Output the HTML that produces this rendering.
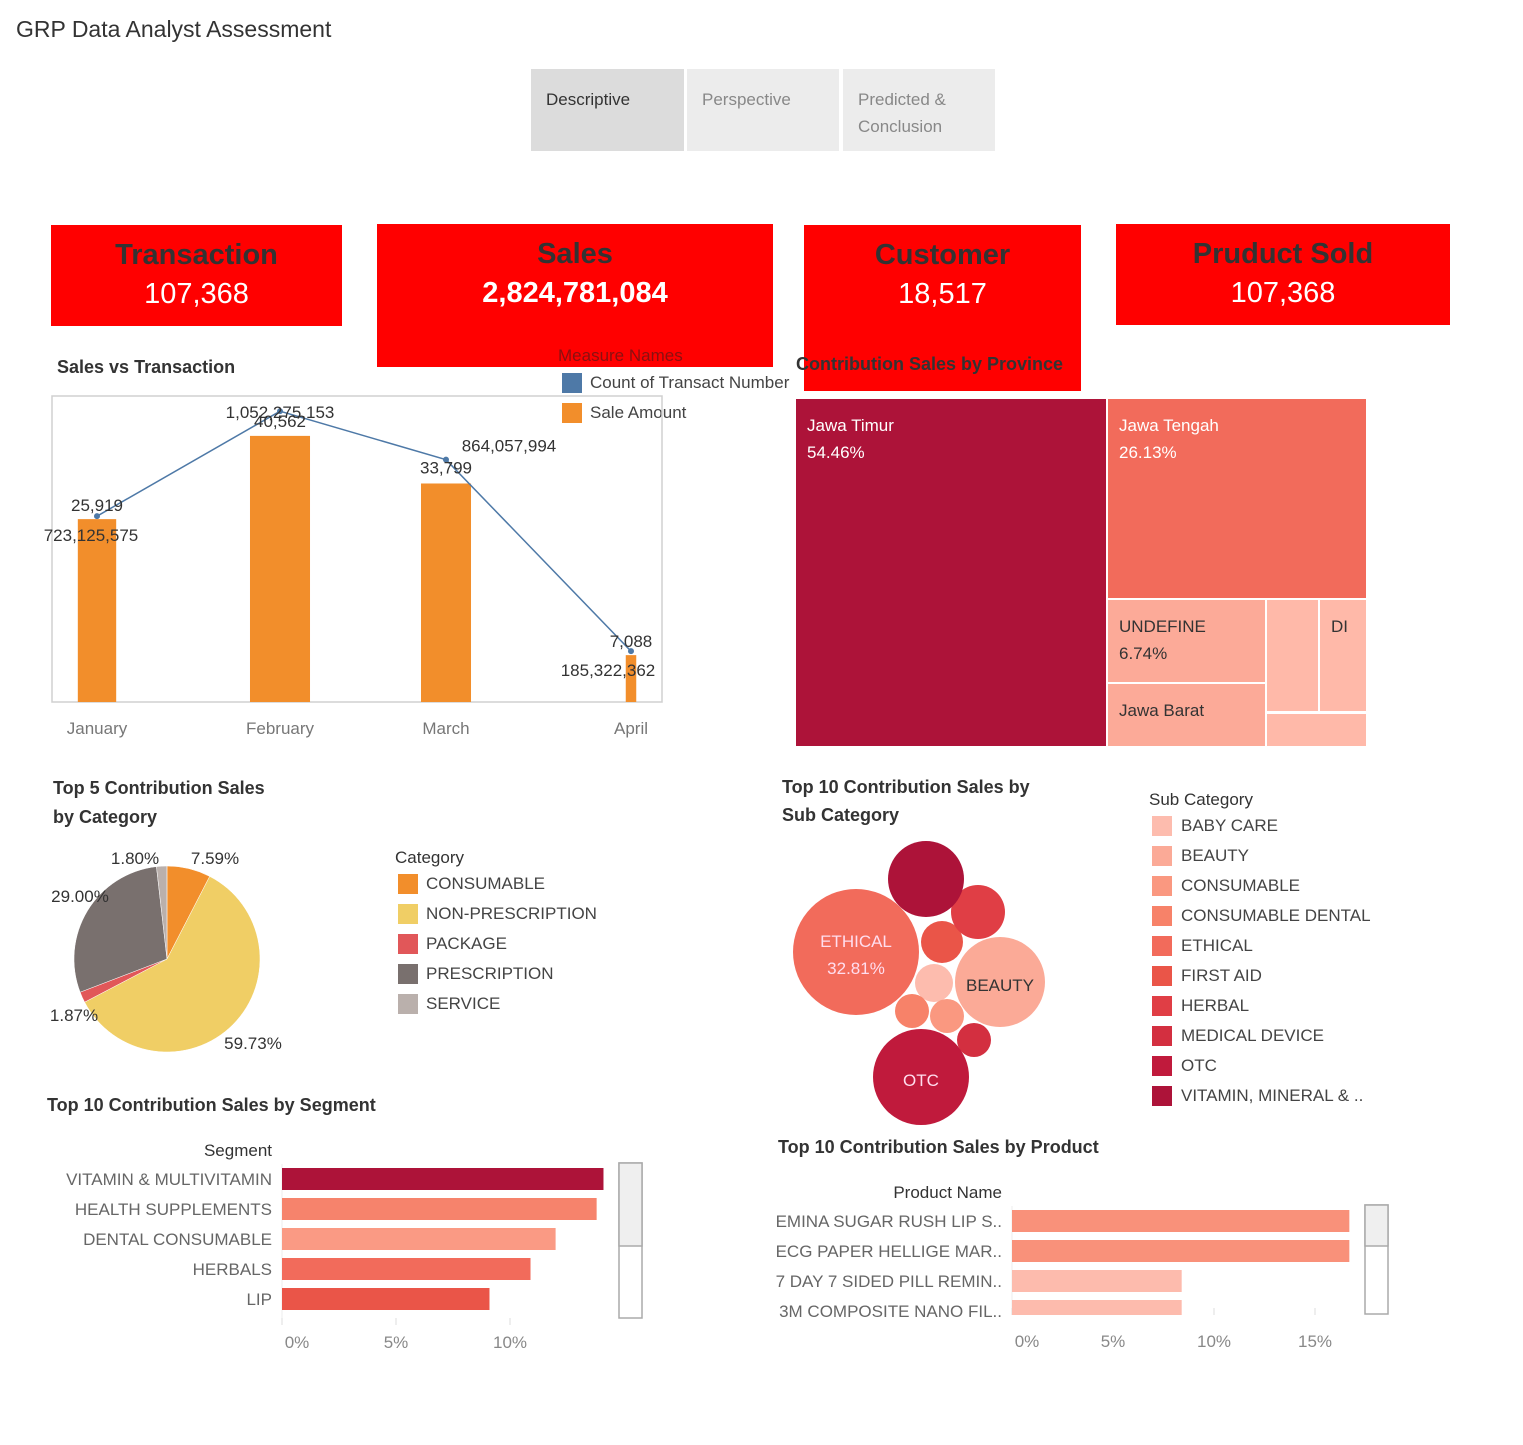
<!DOCTYPE html>
<html><head><meta charset="utf-8">
<style>
*{margin:0;padding:0;box-sizing:border-box}
body{width:1523px;height:1445px;background:#fff;font-family:"Liberation Sans",sans-serif;color:#333;position:relative;overflow:hidden}
.a{position:absolute;white-space:nowrap}
.tab{position:absolute;top:69px;height:82px;font-size:17px;padding:17px 15px;line-height:27px;color:#888}
.kpi{position:absolute;background:#ff0000;text-align:center}
.kpi .t{font-size:29px;font-weight:bold;color:#333;margin-top:14px}
.kpi .v{font-size:29px;color:#fff;margin-top:6px}
.h{font-size:18px;font-weight:bold;color:#333}
.lg{font-size:17px;color:#444}
.sw{position:absolute;width:20px;height:20px}
svg text{font-family:"Liberation Sans",sans-serif}
</style></head><body>
<div class="a" style="left:16px;top:16px;font-size:23px;color:#333">GRP Data Analyst Assessment</div>
<div class="tab" style="left:531px;width:153px;background:#dcdcdc;color:#333">Descriptive</div>
<div class="tab" style="left:687px;width:152px;background:#ececec">Perspective</div>
<div class="tab" style="left:843px;width:152px;background:#ececec">Predicted &amp;<br>Conclusion</div>

<div class="kpi" style="left:51px;top:225px;width:291px;height:101px"><div class="t">Transaction</div><div class="v">107,368</div></div>
<div class="kpi" style="left:377px;top:224px;width:396px;height:143px"><div class="t">Sales</div><div class="v" style="font-weight:bold">2,824,781,084</div></div>
<div class="kpi" style="left:804px;top:225px;width:277px;height:166px"><div class="t">Customer</div><div class="v">18,517</div></div>
<div class="kpi" style="left:1116px;top:224px;width:334px;height:101px"><div class="t">Pruduct Sold</div><div class="v">107,368</div></div>

<div class="a h" style="left:57px;top:357px">Sales vs Transaction</div>
<div class="a" style="left:558px;top:346px;font-size:17px;color:#8a1010">Measure Names</div>
<div class="sw" style="left:562px;top:373px;background:#4e79a7"></div>
<div class="a lg" style="left:590px;top:373px">Count of Transact Number</div>
<div class="sw" style="left:562px;top:403px;background:#f28e2b"></div>
<div class="a lg" style="left:590px;top:403px">Sale Amount</div>

<svg id="combo" class="a" style="left:0;top:0" width="800" height="760"></svg>

<div class="a h" style="left:796px;top:354px">Contribution Sales by Province</div>
<svg id="tree" class="a" style="left:0;top:0" width="1523" height="760"></svg>

<div class="a h" style="left:53px;top:774px;line-height:29px">Top 5 Contribution Sales<br>by Category</div>
<svg id="pie" class="a" style="left:0;top:840px" width="380" height="230"></svg>
<div class="a" style="left:395px;top:848px;font-size:17px">Category</div>
<div id="catleg"></div>

<div class="a h" style="left:782px;top:773px;line-height:28px">Top 10 Contribution Sales by<br>Sub Category</div>
<svg id="bub" class="a" style="left:760px;top:820px" width="340" height="320"></svg>
<div class="a" style="left:1149px;top:790px;font-size:17px">Sub Category</div>
<div id="subleg"></div>

<div class="a h" style="left:47px;top:1095px">Top 10 Contribution Sales by Segment</div>
<svg id="seg" class="a" style="left:0;top:1130px" width="700" height="240"></svg>
<div class="a h" style="left:778px;top:1137px">Top 10 Contribution Sales by Product</div>
<svg id="prod" class="a" style="left:700px;top:1175px" width="720" height="200"></svg>

<script>
const NS="http://www.w3.org/2000/svg";
function mk(p,t,a){const e=document.createElementNS(NS,t);for(const k in a)e.setAttribute(k,a[k]);p.appendChild(e);return e;}
function tx(p,x,y,s,a){const e=mk(p,'text',Object.assign({x:x,y:y,'font-size':17,fill:'#333'},a||{}));e.textContent=s;return e;}

// ===== Sales vs Transaction =====
const months=["January","February","March","April"];
const saleAmount=[723125575,1052275153,864057994,185322362];
const txCount=[25919,40562,33799,7088];
const saleLabels=["723,125,575","1,052,275,153","864,057,994","185,322,362"];
const countLabels=["25,919","40,562","33,799","7,088"];
const monthX=[97,280,446,631];
(function(){
 const s=document.getElementById('combo');
 const top=396,bot=702,left=52,right=662;
 const r1=mk(s,'rect',{x:left,y:top,width:right-left,height:bot-top,fill:'none',stroke:'#d0d0d0','stroke-width':1.5});
 
 const ySale=v=>bot-v/1210e6*(bot-top);
 const yCnt=v=>bot-v/42680*(bot-top);
 const w=v=>v*0.00148;
 months.forEach((m,i)=>{
  const bw=w(txCount[i]);
  const b=mk(s,'rect',{x:monthX[i]-bw/2,y:ySale(saleAmount[i]),width:bw,height:bot-ySale(saleAmount[i]),fill:'#f28e2b'});
  
  
  const t=tx(s,monthX[i],734,m,{'text-anchor':'middle',fill:'#777'});
  
 });
 const pts=months.map((m,i)=>monthX[i]+','+yCnt(txCount[i])).join(' ');
 const l=mk(s,'polyline',{points:pts,fill:'none',stroke:'#4e79a7','stroke-width':1.5});
 
 months.forEach((m,i)=>{
  const c=mk(s,'circle',{cx:monthX[i],cy:yCnt(txCount[i]),r:3,fill:'#4e79a7'});
  
 });
 const sOff=[[-6,22],[0,-18],[63,-32],[-23,21]],cOff=[[0,-5],[0,16],[0,14],[0,-4]];
 months.forEach((m,i)=>{
  const a=tx(s,monthX[i]+sOff[i][0],ySale(saleAmount[i])+sOff[i][1],saleLabels[i],{'text-anchor':'middle'});
  
  const b=tx(s,monthX[i]+cOff[i][0],yCnt(txCount[i])+cOff[i][1],countLabels[i],{'text-anchor':'middle'});
  
 });
})();

// ===== Treemap =====
(function(){
 const s=document.getElementById('tree');
 const cells=[[796,399,310,347,'#ad1339','Jawa Timur','54.46%','#fff'],[1108,399,258,199,'#f26b5b','Jawa Tengah','26.13%','#fff'],
 [1108,600,157,82,'#fcaa98','UNDEFINE','6.74%','#333'],[1108,684,157,62,'#fcaa98','Jawa Barat','','#333'],
 [1267,600,51,111,'#ffb9a9','','', '#333'],[1320,600,46,111,'#ffb9a9','DI','','#333'],[1267,714,99,32,'#ffb9a9','','','#333']];
 cells.forEach(c=>{
  const r=mk(s,'rect',{x:c[0],y:c[1],width:c[2],height:c[3],fill:c[4]});
  
  if(c[5]){tx(s,c[0]+11,c[1]+32,c[5],{fill:c[7]});}
  if(c[6]){tx(s,c[0]+11,c[1]+59,c[6],{fill:c[7]});}
 });
})();

// ===== Pie =====
const catNames=["CONSUMABLE","NON-PRESCRIPTION","PACKAGE","PRESCRIPTION","SERVICE"];
const catShares=[7.59,59.73,1.87,29.00,1.80];
const catColors=["#f28e2b","#edc948","#e15759","#79706e","#bab0ac"];
(function(){
 const s=document.getElementById('pie');const cx=167,cy=119,R=93;
 let a0=0;
 const lpos=[[215,24],[253,209],[74,181],[80,62],[135,24]];
 catShares.forEach((v,i)=>{
  const a1=a0+v/100*2*Math.PI;
  const x0=cx+R*Math.sin(a0),y0=cy-R*Math.cos(a0),x1=cx+R*Math.sin(a1),y1=cy-R*Math.cos(a1);
  const p=mk(s,'path',{d:`M${cx},${cy}L${x0},${y0}A${R},${R} 0 ${a1-a0>Math.PI?1:0} 1 ${x1},${y1}Z`,fill:catColors[i]==='#edc948'?'#f0ce65':catColors[i],stroke:'#fff','stroke-width':0.5});
  
  a0=a1;
  const t=tx(s,lpos[i][0],lpos[i][1],v.toFixed(2)+'%',{'text-anchor':'middle'});
  
 });
 const L=document.getElementById('catleg');
 catNames.forEach((n,i)=>{
  const sw=document.createElement('div');sw.className='sw';sw.style.cssText=`left:398px;top:${874+i*30}px;background:${i==1?'#f0ce65':catColors[i]}`;
  L.appendChild(sw);
  const d=document.createElement('div');d.className='a lg';d.style.cssText=`left:426px;top:${874+i*30}px`;d.textContent=n;
  L.appendChild(d);
 });
})();

// ===== Bubbles =====
const subNames=["BABY CARE","BEAUTY","CONSUMABLE","CONSUMABLE DENTAL","ETHICAL","FIRST AID","HERBAL","MEDICAL DEVICE","OTC","VITAMIN, MINERAL & .."];
const subColors=["#fdbcae","#fbaa97","#fa9880","#f78269","#f26b5b","#ea5548","#e03e45","#d32f40","#c01a3c","#ad1339"];
const subRadius=[19,45,17,17,63,21,27,17,48,38];
(function(){
 const s=document.getElementById('bub');
 const ctr=[[174,163],[240,162],[187,196],[152,191],[96,132],[182,122],[218,92],[214,220],[161,257],[166,59]];
 subNames.forEach((n,i)=>{
  const c=mk(s,'circle',{cx:ctr[i][0],cy:ctr[i][1],r:subRadius[i],fill:subColors[i]});
  
 });
 tx(s,96,127,'ETHICAL',{'text-anchor':'middle',fill:'#fde'});
 tx(s,96,154,'32.81%',{'text-anchor':'middle',fill:'#fde'});
 tx(s,240,171,'BEAUTY',{'text-anchor':'middle'});
 tx(s,161,266,'OTC',{'text-anchor':'middle',fill:'#fde'});
 const L=document.getElementById('subleg');
 subNames.forEach((n,i)=>{
  const sw=document.createElement('div');sw.className='sw';sw.style.cssText=`left:1152px;top:${816+i*30}px;background:${subColors[i]}`;
  L.appendChild(sw);
  const d=document.createElement('div');d.className='a lg';d.style.cssText=`left:1181px;top:${816+i*30}px`;d.textContent=n;
  L.appendChild(d);
 });
})();

// ===== Segment bars =====
const segNames=["VITAMIN & MULTIVITAMIN","HEALTH SUPPLEMENTS","DENTAL CONSUMABLE","HERBALS","LIP"];
const segValues=[14.1,13.8,12.0,10.9,9.1];
const segColors=["#ad1339","#f6836c","#fa9a84","#f26b5b","#ea5548"];
const segTicks=[0,5,10];
function hbar(id,ox,oy,names,vals,cols,ticks,pxPer,rowY,bh,labRight,hdr,sb,axisY,tickY){
 const s=document.getElementById(id);
 tx(s,labRight,hdr[1],hdr[0],{'text-anchor':'end','font-size':17});
 mk(s,'line',{x1:ox,x2:ox,y1:rowY-15,y2:axisY,stroke:'#eee'});
 ticks.forEach((t,i)=>{
  const x=ox+t*pxPer;
  mk(s,'line',{x1:x,x2:x,y1:axisY-7,y2:axisY,stroke:'#ddd'});
  const e=tx(s,i==0?x+15:x,tickY,t+'%',{'text-anchor':'middle',fill:'#888'});
  
 });
 names.forEach((n,i)=>{
  const y=rowY+i*30;
  const r=mk(s,'rect',{x:ox,y:y-bh/2,width:vals[i]*pxPer,height:Math.min(bh,axisY-(y-bh/2)),fill:cols[i]});
  
  const t=tx(s,labRight,y+6,n,{'text-anchor':'end',fill:'#666'});
  
 });
 const sbr=mk(s,'rect',{x:sb[0],y:sb[1],width:23,height:sb[2],fill:'#fff',stroke:'#aaa','stroke-width':1.5});
 
 const th=mk(s,'rect',{x:sb[0],y:sb[1],width:23,height:sb[3],fill:'#efefef',stroke:'#aaa','stroke-width':1.5});
 
}
hbar('seg',282,0,segNames,segValues,segColors,segTicks,22.8,49,22,272,['Segment',26],[619,33,155,83],195,218);

// ===== Product bars =====
const prodNames=["EMINA SUGAR RUSH LIP S..","ECG PAPER HELLIGE MAR..","7 DAY 7 SIDED PILL REMIN..","3M COMPOSITE NANO FIL.."];
const prodValues=[16.7,16.7,8.4,8.4];
const prodColors=["#f9917a","#f9917a","#fdbbad","#fdbbad"];
const prodTicks=[0,5,10,15];
hbar('prod',312,0,prodNames,prodValues,prodColors,prodTicks,20.2,46,22,302,['Product Name',23],[665,30,109,41],140,172);
</script>
</body></html>
